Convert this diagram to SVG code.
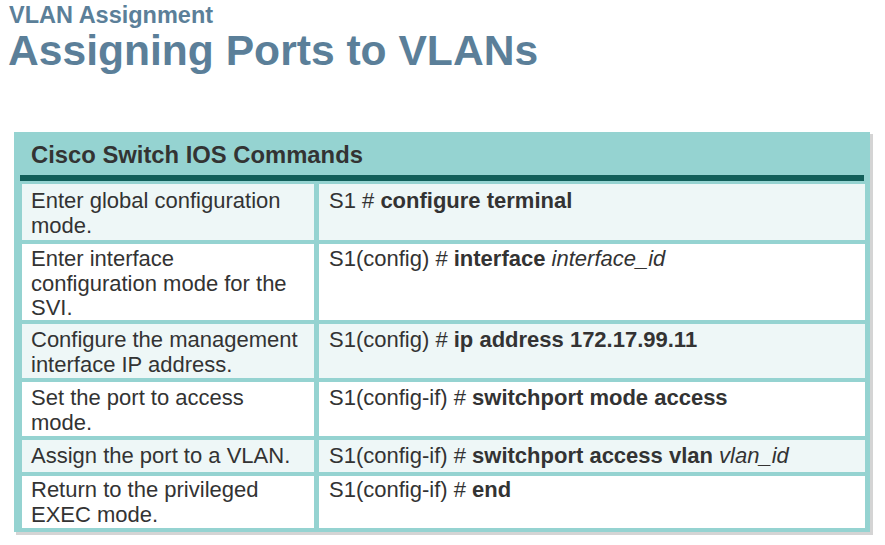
<svg xmlns="http://www.w3.org/2000/svg" width="885" height="545" viewBox="0 0 885 545">
<style>
.t{font-family:"Liberation Sans",Arial,sans-serif;fill:#333;font-size:22px}
.b{font-weight:bold}
.i{font-style:italic}
.odd{fill:#eef7f7}
.even{fill:#fff}
</style>
<rect width="885" height="545" fill="#fff"/>
<g id="title">
<text x="9" y="23" font-family="Liberation Sans,Arial,sans-serif" font-weight="bold" font-size="23.5" fill="#5b7f99">VLAN Assignment</text>
<text x="8" y="65" font-family="Liberation Sans,Arial,sans-serif" font-weight="bold" font-size="42.6" fill="#5b7f99">Assigning Ports to VLANs</text>
</g>
<g id="table">
<rect x="16" y="134" width="857" height="401" fill="#aaa" opacity="0.5"/>
<rect x="14" y="132" width="856" height="400" fill="#95d3d1"/>
<text class="t b" x="31" y="163" style="font-size:23.8px">Cisco Switch IOS Commands</text>
<rect x="20" y="175" width="844" height="6" fill="#125f5a"/>
<rect class="odd" x="22" y="184" width="292" height="56"/><rect class="odd" x="319" y="184" width="546" height="56"/>
<rect class="even" x="22" y="244" width="292" height="76"/><rect class="even" x="319" y="244" width="546" height="76"/>
<rect class="odd" x="22" y="324" width="292" height="54"/><rect class="odd" x="319" y="324" width="546" height="54"/>
<rect class="even" x="22" y="382" width="292" height="54"/><rect class="even" x="319" y="382" width="546" height="54"/>
<rect class="odd" x="22" y="440" width="292" height="32"/><rect class="odd" x="319" y="440" width="546" height="32"/>
<rect class="even" x="22" y="476" width="292" height="52"/><rect class="even" x="319" y="476" width="546" height="52"/>
<text class="t" x="31" y="208">Enter global configuration<tspan x="31" dy="24.5">mode.</tspan></text>
<text class="t" x="31" y="266">Enter interface<tspan x="31" dy="24.5">configuration mode for the</tspan><tspan x="31" dy="24.5">SVI.</tspan></text>
<text class="t" x="31" y="347">Configure the management<tspan x="31" dy="24.5">interface IP address.</tspan></text>
<text class="t" x="31" y="405">Set the port to access<tspan x="31" dy="24.5">mode.</tspan></text>
<text class="t" x="31" y="463">Assign the port to a VLAN.</text>
<text class="t" x="31" y="497">Return to the privileged<tspan x="31" dy="24.5">EXEC mode.</tspan></text>
<text class="t" x="329" y="208">S1 # <tspan class="b">configure terminal</tspan></text>
<text class="t" x="329" y="266">S1(config) # <tspan class="b">interface</tspan> <tspan class="i">interface_id</tspan></text>
<text class="t" x="329" y="347">S1(config) # <tspan class="b">ip address 172.17.99.11</tspan></text>
<text class="t" x="329" y="405">S1(config-if) # <tspan class="b">switchport mode access</tspan></text>
<text class="t" x="329" y="463">S1(config-if) # <tspan class="b">switchport access vlan</tspan>  <tspan class="i">vlan_id</tspan></text>
<text class="t" x="329" y="497">S1(config-if) # <tspan class="b">end</tspan></text>
</g>
</svg>
